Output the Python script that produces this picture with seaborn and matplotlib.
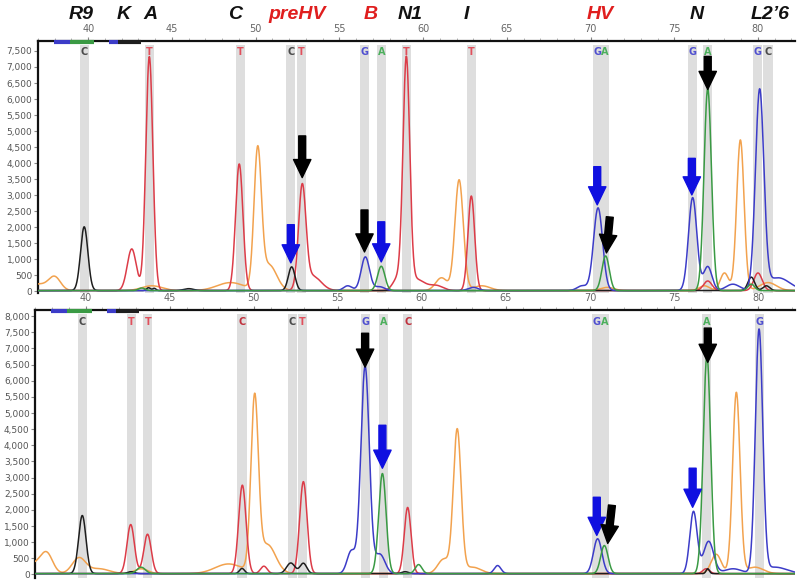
import numpy as np
import pandas as pd
import matplotlib
matplotlib.use("Agg")
import matplotlib.pyplot as plt
import matplotlib.transforms as mtransforms
from matplotlib.ticker import FuncFormatter, MultipleLocator
import seaborn as sns

# ---------------- data ----------------
# Region labels above the chart
region_names = ["R9", "K", "A", "C", "preHV", "B", "N1", "I", "HV", "N", "L2\u20196"]
region_pos = [39.6, 42.1, 43.7, 48.8, 52.45, 56.9, 59.2, 62.6, 70.55, 76.35, 80.7]
region_highlight = [False, False, False, False, True, True, False, False, True, False, False]

# Base calls (band positions) per panel
top_call_pos = [39.75, 43.65, 49.1, 52.1, 52.75, 56.5, 57.5, 59.0, 62.9, 70.4, 70.85, 76.1, 77.0, 80.0, 80.6]
top_call_base = ["C", "T", "T", "C", "T", "G", "A", "T", "T", "G", "A", "G", "A", "G", "C"]
bot_call_pos = [39.8, 42.7, 43.7, 49.3, 52.3, 52.9, 56.65, 57.7, 59.15, 70.4, 70.85, 76.95, 80.05]
bot_call_base = ["C", "T", "T", "Y", "C", "T", "G", "A", "Y", "G", "A", "A", "G"]

# Peaks: dye -> (centre, height, sigma)
top_peaks = {
    "C": [(39.76, 1990, 0.22), (43.6, 90, 0.12), (43.95, 70, 0.1), (46.0, 60, 0.3),
          (52.15, 740, 0.2), (79.6, 420, 0.2), (80.5, 150, 0.2)],
    "T": [(42.6, 1300, 0.27), (43.65, 7300, 0.21), (49.02, 3950, 0.22),
          (52.78, 3130, 0.22), (53.4, 450, 0.5), (58.5, 380, 0.3),
          (59.0, 7050, 0.2), (59.6, 350, 0.5), (60.8, 150, 0.4),
          (62.88, 2950, 0.2), (77.0, 300, 0.25), (80.0, 550, 0.25)],
    "O": [(37.0, 200, 0.6), (38.0, 400, 0.35), (43.8, 150, 0.6), (48.5, 250, 0.8),
          (50.12, 4230, 0.22), (50.8, 800, 0.45), (61.1, 400, 0.35),
          (62.15, 3450, 0.25), (63.5, 150, 0.5), (71.0, 100, 0.4), (76.8, 150, 0.3),
          (78.0, 550, 0.25), (78.95, 4700, 0.22), (80.6, 250, 0.5)],
    "G": [(55.5, 150, 0.25), (56.55, 1050, 0.25), (57.4, 120, 0.3), (63.0, 100, 0.3),
          (69.5, 150, 0.3), (70.45, 2580, 0.27), (76.1, 2900, 0.25), (77.0, 750, 0.25),
          (78.5, 200, 0.4), (80.1, 6180, 0.25), (81.2, 400, 0.7)],
    "A": [(43.2, 80, 0.2), (57.5, 760, 0.22), (70.9, 1080, 0.22), (77.0, 6300, 0.22),
          (79.6, 200, 0.2)],
}
bot_peaks = {
    "C": [(39.8, 1800, 0.22), (42.7, 60, 0.2), (49.3, 160, 0.15), (52.2, 330, 0.25),
          (52.95, 320, 0.2), (59.0, 60, 0.2), (77.0, 150, 0.1)],
    "T": [(42.68, 1520, 0.22), (43.68, 1220, 0.22), (49.32, 2740, 0.22), (50.6, 230, 0.2),
          (52.95, 2850, 0.22), (59.15, 2050, 0.2), (76.9, 150, 0.2)],
    "O": [(37.0, 300, 0.5), (37.7, 560, 0.35), (39.6, 480, 0.4), (40.8, 150, 0.6),
          (43.3, 150, 0.4), (48.5, 300, 0.8), (50.05, 5250, 0.22), (50.8, 900, 0.5),
          (61.3, 450, 0.35), (62.1, 4420, 0.23), (63.0, 200, 0.5), (77.5, 600, 0.3),
          (78.7, 5600, 0.22), (79.8, 200, 0.5)],
    "G": [(55.8, 700, 0.25), (56.62, 6420, 0.25), (57.5, 600, 0.3), (64.5, 250, 0.2),
          (70.45, 1080, 0.25), (76.15, 1920, 0.22), (77.05, 1000, 0.3), (78.5, 150, 0.5),
          (80.05, 7500, 0.22), (81.0, 200, 0.7)],
    "A": [(43.3, 200, 0.25), (57.65, 3100, 0.22), (59.8, 280, 0.2), (70.85, 870, 0.22),
          (76.95, 6750, 0.22)],
}

# Arrows: (x_top, y_top, x_tip, y_tip, kind)
top_arrows = [(52.78, 4850, 52.78, 3550, "mut"), (52.1, 2080, 52.1, 890, "het"),
              (56.5, 2540, 56.5, 1230, "mut"), (57.5, 2170, 57.5, 920, "het"),
              (70.4, 3890, 70.4, 2700, "het"), (71.15, 2320, 70.95, 1200, "mut"),
              (76.05, 4150, 76.05, 3010, "het"), (77.0, 7330, 77.0, 6300, "mut")]
bot_arrows = [(56.62, 7470, 56.62, 6420, "mut"), (57.65, 4620, 57.65, 3290, "het"),
              (70.4, 2390, 70.4, 1210, "het"), (71.3, 2140, 71.05, 960, "mut"),
              (76.1, 3290, 76.1, 2080, "het"), (77.0, 7630, 77.0, 6570, "mut")]

# quality bars along top edge: (start, end, dye)
qual_bars = [(37.96, 38.9, "G"), (38.9, 40.36, "A"), (41.26, 41.8, "G"), (41.8, 43.17, "C")]

x_ticks = [40, 45, 50, 55, 60, 65, 70, 75, 80]

# ---------------- styles ----------------
dye_colors = {"C": "#1e1e1e", "T": "#dc3c48", "O": "#f2a24e", "G": "#3c3cc8", "A": "#3a9a44"}
base_colors = {"C": "#4a4a4a", "T": "#e0505c", "G": "#5050d0", "A": "#4caf5c", "Y": "#c0303c"}
arrow_colors = {"mut": "#000000", "het": "#1010e0"}

sns.set_style("white")
plt.rcParams["font.family"] = ["DejaVu Sans"]

fig = plt.figure(figsize=(8, 5.81), dpi=100)
ax_top = fig.add_axes([0.0475, 0.4957, 0.946, 0.4337])
ax_bot = fig.add_axes([0.0440, 0.0052, 0.9500, 0.4612])

xgrid = np.linspace(37.0, 82.2, 3000)


def trace_frame(peaks):
    rows = []
    for dye, plist in peaks.items():
        y = np.full_like(xgrid, 25.0)
        for c, h, s in plist:
            y = y + h * np.exp(-0.5 * ((xgrid - c) / s) ** 2)
        rows.append(pd.DataFrame({"pos": xgrid, "signal": y, "dye": dye}))
    return pd.concat(rows, ignore_index=True)


def draw_panel(ax, peaks, call_pos, call_base, arrows, ylim, ymax_tick):
    ax.set_xlim(37.0, 82.2)
    ax.set_ylim(*ylim)
    # base-call bands
    for p, b in zip(call_pos, call_base):
        ax.axvspan(p - 0.27, p + 0.27, ymin=0, ymax=0.985, color="#dedede", lw=0, zorder=0)
        ax.text(p, 0.975, "C" if b == "Y" else b, transform=ax.get_xaxis_transform(),
                ha="center", va="top", fontsize=7, color=base_colors[b], fontweight="bold",
                zorder=5)
    df = trace_frame(peaks)
    order = ["O", "T", "C", "G", "A"]
    sns.lineplot(data=df, x="pos", y="signal", hue="dye", hue_order=order,
                 palette=dye_colors, estimator=None, sort=False, legend=False,
                 linewidth=1.1, ax=ax, zorder=3)
    for xs, ys, xt, yt, kind in arrows:
        ax.annotate("", xy=(xt, yt), xytext=(xs, ys),
                    arrowprops=dict(arrowstyle="simple,head_length=1.3,head_width=1.25,tail_width=0.5",
                                    color=arrow_colors[kind], shrinkA=0, shrinkB=0,
                                    mutation_scale=10), zorder=6)
    trans = ax.get_xaxis_transform()
    for s, e, d in qual_bars:
        ax.plot([s, e], [0.995, 0.995], transform=trans, color=dye_colors[d], lw=3,
                solid_capstyle="butt", zorder=7, clip_on=False)
    ax.xaxis.tick_top()
    ax.set_xticks(x_ticks)
    ax.set_xticklabels([str(t) for t in x_ticks])
    ax.xaxis.set_minor_locator(MultipleLocator(1))
    ax.set_yticks(np.arange(0, ymax_tick + 1, 500))
    ax.yaxis.set_major_formatter(FuncFormatter(lambda v, p: f"{int(v):,}"))
    ax.tick_params(axis="x", which="major", top=True, bottom=False, labelsize=7,
                   labelcolor="#666666", length=3, pad=2, color="#888888")
    ax.tick_params(axis="x", which="minor", top=True, bottom=False, length=2, color="#aaaaaa")
    ax.tick_params(axis="y", left=True, labelsize=6.5, labelcolor="#555555", length=3,
                   pad=1, color="#888888")
    ax.set_xlabel("")
    ax.set_ylabel("")
    for side in ["right", "bottom"]:
        ax.spines[side].set_visible(False)
    ax.spines["top"].set_color("#111111")
    ax.spines["top"].set_linewidth(1.6)
    ax.spines["left"].set_color("#111111")
    ax.spines["left"].set_linewidth(1.6)


draw_panel(ax_top, top_peaks, top_call_pos, top_call_base, top_arrows, (-50, 7810), 7500)
draw_panel(ax_bot, bot_peaks, bot_call_pos, bot_call_base, bot_arrows, (-110, 8190), 8000)

trans = mtransforms.blended_transform_factory(ax_top.transData, ax_top.transAxes)
for name, pos, hl in zip(region_names, region_pos, region_highlight):
    ax_top.text(pos, 1.107, name, transform=trans, ha="center", va="center",
                fontsize=14, fontweight="bold", fontstyle="italic",
                family=["Liberation Sans", "DejaVu Sans"],
                color="#e01e1e" if hl else "#111111", clip_on=False)

fig.savefig("out.png", dpi=100)
